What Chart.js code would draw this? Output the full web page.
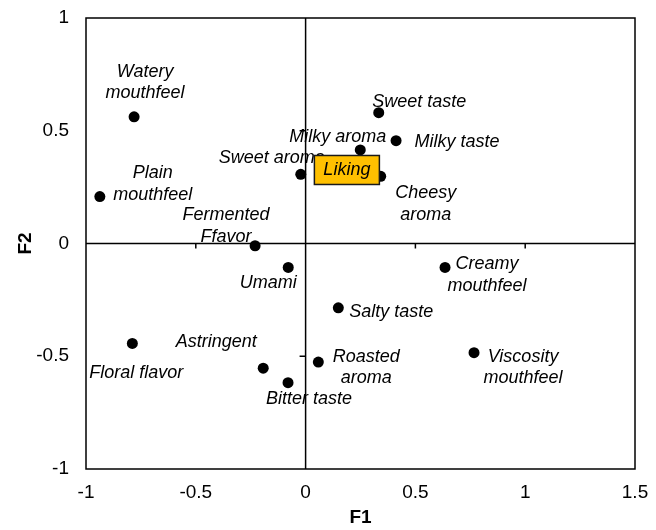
<!DOCTYPE html>
<html>
<head>
<meta charset="utf-8">
<script src="https://cdn.jsdelivr.net/npm/chart.js@4.4.1/dist/chart.umd.min.js"></script>
<style>
    html, body { margin: 0; padding: 0; background: #fff; }
    #wrap { width: 656px; height: 530px; }
</style>
</head>
<body>
<div id="wrap"><canvas id="pca_chart" width="656" height="530"></canvas></div>
<script>
// Sensory attributes (names, F1 and F2 coordinates)
const attributes = [
    'Watery\nmouthfeel', 'Plain\nmouthfeel', 'Fermented\nFfavor', 'Umami',
    'Floral flavor', 'Astringent', 'Bitter taste', 'Roasted\naroma',
    'Salty taste', 'Creamy\nmouthfeel', 'Viscosity\nmouthfeel', 'Sweet aroma',
    'Milky aroma', 'Milky taste', 'Sweet taste', 'Cheesy\naroma'
];
const f1 = [-0.781, -0.937, -0.230, -0.079, -0.789, -0.193, -0.080, 0.058,
            0.149, 0.635, 0.767, -0.022, 0.249, 0.412, 0.333, 0.342];
const f2 = [0.562, 0.208, -0.010, -0.106, -0.443, -0.553, -0.617, -0.526,
            -0.285, -0.106, -0.484, 0.307, 0.415, 0.456, 0.580, 0.298];

// Liking as supplementary variable
const likingLabel = 'Liking';
const likingF1 = [0.188];
const likingF2 = [0.326];

const xTicks = [-1, -0.5, 0, 0.5, 1, 1.5];
const yTicks = [-1, -0.5, 0, 0.5, 1];

// where each label sits relative to its dot (px, center of first line)
const labelOffsets = [
    [11, -45], [53, -23.4], [-29, -30.7], [-20, 15.4],
    [4, 30], [-47, -26.6], [21, 16.3], [48, -5.6],
    [53, 4], [42, -3], [49, 4], [-29, -16],
    [-22.5, -13.3], [61, 1], [40.5, -10.6], [45, 16.6]
];
const LINE_H = 21.7;
const FONT = "'Liberation Sans', Arial, sans-serif";

// zero axes, frame and little tick marks on the zero lines
const axesPlugin = {
    id: 'axesPlugin',
    beforeDatasetsDraw(chart) {
        const ctx = chart.ctx;
        const a = chart.chartArea;
        const xs = chart.scales.x, ys = chart.scales.y;
        const x0 = xs.getPixelForValue(0), y0 = ys.getPixelForValue(0);
        ctx.save();
        ctx.strokeStyle = '#000';
        ctx.lineWidth = 1.5;
        ctx.beginPath();
        ctx.moveTo(x0, a.top); ctx.lineTo(x0, a.bottom);
        ctx.moveTo(a.left, y0); ctx.lineTo(a.right, y0);
        xTicks.forEach(v => {
            if (v === 0 || v === xTicks[0] || v === xTicks[xTicks.length - 1]) return;
            let px = xs.getPixelForValue(v);
            ctx.moveTo(px, y0); ctx.lineTo(px, y0 + 5);
        });
        yTicks.forEach(v => {
            if (v === 0 || v === yTicks[0] || v === yTicks[yTicks.length - 1]) return;
            let py = ys.getPixelForValue(v);
            ctx.moveTo(x0, py); ctx.lineTo(x0 - 6, py);
        });
        ctx.stroke();
        ctx.strokeRect(a.left, a.top, a.right - a.left, a.bottom - a.top);
        ctx.restore();
    }
};

// attribute names next to the dots, then the Liking box on top
const labelPlugin = {
    id: 'labelPlugin',
    afterDatasetsDraw(chart) {
        const ctx = chart.ctx;
        const pts = chart.getDatasetMeta(0).data;
        ctx.save();
        ctx.fillStyle = '#000';
        ctx.font = 'italic 18px ' + FONT;
        ctx.textAlign = 'center';
        ctx.textBaseline = 'middle';
        pts.forEach((p, i) => {
            let lines = attributes[i].split('\n');
            lines.forEach((t, j) => {
                ctx.fillText(t, p.x + labelOffsets[i][0], p.y + labelOffsets[i][1] + j * LINE_H);
            });
        });

        const lk = chart.getDatasetMeta(1).data[0];
        const w = 65, h = 29;
        ctx.fillStyle = '#FFC000';
        ctx.fillRect(lk.x - w / 2, lk.y - h / 2, w, h);
        ctx.strokeStyle = '#1a1a1a';
        ctx.lineWidth = 1.5;
        ctx.strokeRect(lk.x - w / 2, lk.y - h / 2, w, h);
        ctx.fillStyle = '#000';
        ctx.fillText(likingLabel, lk.x, lk.y);
        ctx.restore();
    }
};

let config = {
    type: 'scatter',
    data: {
        datasets: [{
            label: 'Attributes',
            data: f1.map((v, i) => ({ x: v, y: f2[i] })),
            backgroundColor: '#000',
            borderWidth: 0,
            pointRadius: 5.5,
            pointHoverRadius: 5.5
        }, {
            label: likingLabel,
            data: likingF1.map((v, i) => ({ x: v, y: likingF2[i] })),
            pointRadius: 0,
            pointHoverRadius: 0
        }]
    },
    options: {
        responsive: false,
        animation: false,
        layout: { padding: { top: 18, right: 21, left: 0, bottom: 0 } },
        plugins: {
            legend: { display: false },
            tooltip: { enabled: false }
        },
        scales: {
            x: {
                type: 'linear',
                min: xTicks[0],
                max: xTicks[xTicks.length - 1],
                afterBuildTicks: s => { s.ticks = xTicks.map(v => ({ value: v })); },
                afterFit: s => { s.height = 61; },
                // tick marks hidden, tickLength only spaces the labels
                grid: { display: false, drawTicks: true, tickLength: 12 },
                border: { display: false },
                ticks: {
                    padding: 0,
                    color: '#000',
                    font: { family: FONT, size: 19 },
                    maxRotation: 0,
                    callback: v => String(v)
                },
                title: {
                    display: true,
                    text: 'F1',
                    color: '#000',
                    font: { family: FONT, size: 19, weight: 'bold' },
                    padding: { top: 0, bottom: 1 }
                }
            },
            y: {
                type: 'linear',
                min: yTicks[0],
                max: yTicks[yTicks.length - 1],
                afterBuildTicks: s => { s.ticks = yTicks.map(v => ({ value: v })); },
                afterFit: s => { s.width = 86; },
                grid: { display: false, drawTicks: true, tickLength: 17 },
                border: { display: false },
                ticks: {
                    padding: 0,
                    color: '#000',
                    font: { family: FONT, size: 19 },
                    callback: v => String(v)
                },
                title: {
                    display: true,
                    text: 'F2',
                    color: '#000',
                    font: { family: FONT, size: 19, weight: 'bold' },
                    padding: { top: 14, bottom: 0 }
                }
            }
        }
    },
    plugins: [axesPlugin, labelPlugin]
};

new Chart(document.getElementById('pca_chart').getContext('2d'), config);
</script>
</body>
</html>
